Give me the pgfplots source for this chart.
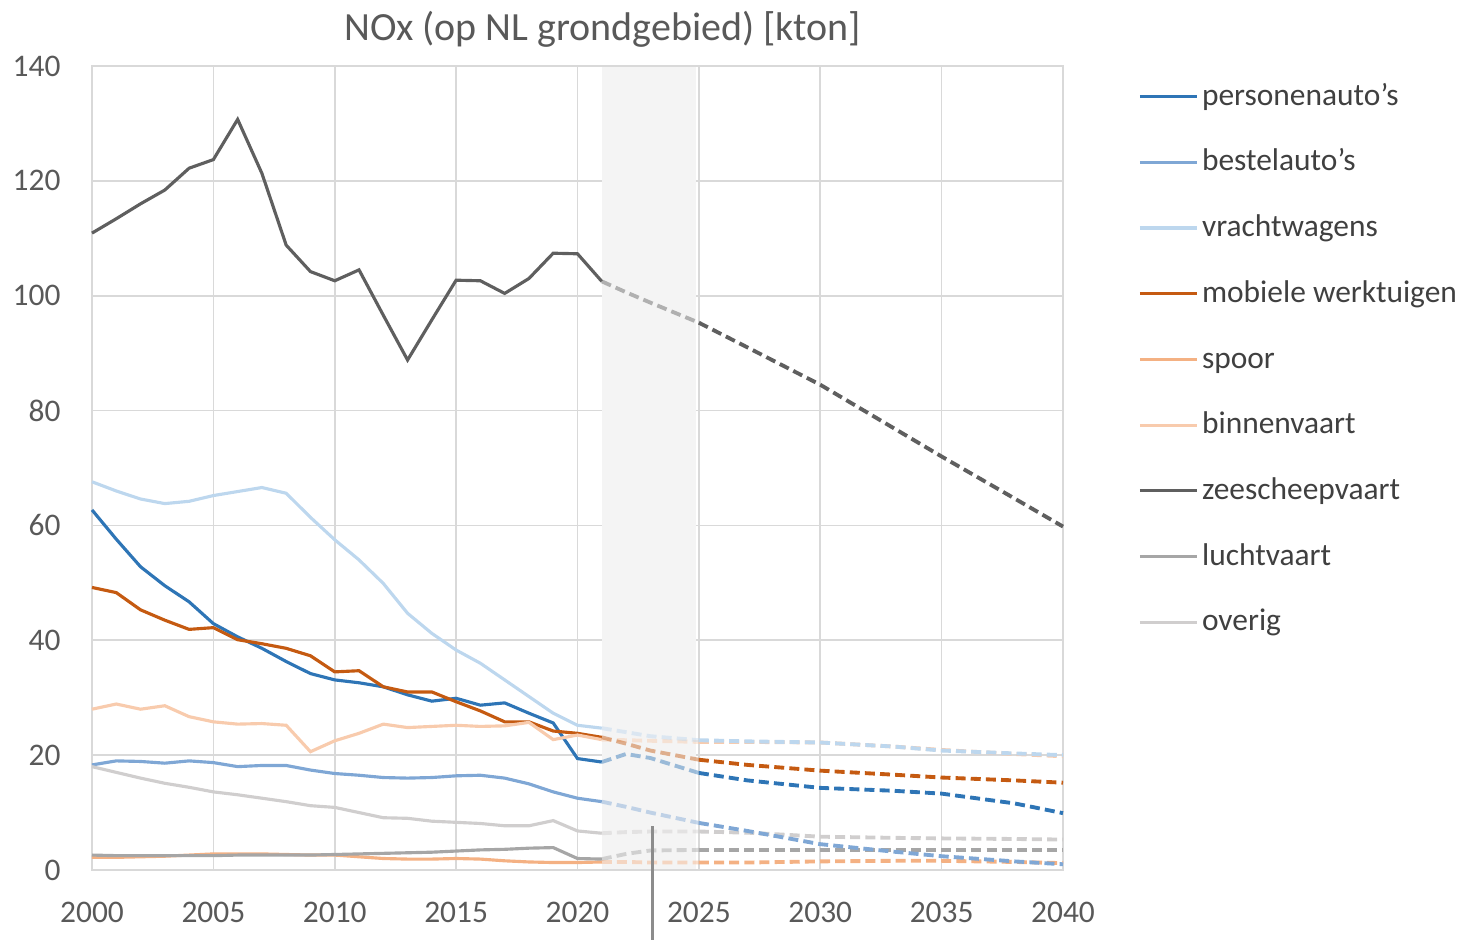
\documentclass[border=0pt]{standalone}
\usepackage{fontspec}
\setmainfont{Carlito}
\usepackage{pgfplots}
\pgfplotsset{compat=1.18}
\usepackage{pgfplotstable}

\definecolor{pa}{HTML}{2E75B6}
\definecolor{ba}{HTML}{7FA7D5}
\definecolor{vw}{HTML}{BDD7EE}
\definecolor{mw}{HTML}{C55A11}
\definecolor{sp}{HTML}{F4B183}
\definecolor{bv}{HTML}{F8CBAD}
\definecolor{zs}{HTML}{5F5F5F}
\definecolor{lv}{HTML}{A6A6A6}
\definecolor{ov}{HTML}{D0CECE}
\definecolor{gridc}{HTML}{D9D9D9}
\definecolor{tickc}{HTML}{595959}
\definecolor{legc}{HTML}{404040}
\definecolor{bandc}{HTML}{F4F4F4}
\definecolor{annc}{HTML}{8C8C8C}

\pgfplotstableread{
year pa ba vw mw sp bv zs lv ov
2000 62.7 18.3 67.6 49.2 2.2 28.0 110.9 2.6 18.0
2001 57.6 19.0 66.0 48.3 2.2 28.9 113.4 2.5 17.0
2002 52.8 18.9 64.6 45.3 2.3 28.0 116.0 2.5 16.0
2003 49.5 18.6 63.8 43.5 2.4 28.6 118.4 2.5 15.1
2004 46.7 19.0 64.2 41.9 2.6 26.7 122.2 2.5 14.4
2005 42.9 18.7 65.2 42.2 2.8 25.8 123.7 2.5 13.6
2006 40.6 18.0 65.9 40.1 2.8 25.4 130.7 2.6 13.1
2007 38.6 18.2 66.6 39.4 2.8 25.5 121.3 2.6 12.5
2008 36.3 18.2 65.6 38.6 2.7 25.2 108.8 2.6 11.9
2009 34.2 17.4 61.4 37.3 2.6 20.6 104.2 2.6 11.2
2010 33.1 16.8 57.5 34.5 2.6 22.5 102.6 2.7 10.9
2011 32.6 16.5 54.0 34.7 2.3 23.8 104.5 2.8 10.0
2012 31.9 16.1 49.9 31.9 2.0 25.4 96.6 2.9 9.1
2013 30.5 16.0 44.7 31.0 1.9 24.8 88.8 3.0 9.0
2014 29.4 16.1 41.2 31.0 1.9 25.0 95.8 3.1 8.5
2015 29.9 16.4 38.3 29.3 2.0 25.2 102.7 3.3 8.3
2016 28.7 16.5 36.0 27.7 1.9 25.0 102.6 3.5 8.1
2017 29.1 16.0 33.1 25.8 1.6 25.1 100.4 3.6 7.7
2018 27.3 15.0 30.2 25.8 1.4 25.7 103.0 3.8 7.7
2019 25.6 13.6 27.3 24.2 1.3 22.7 107.4 3.9 8.6
2020 19.4 12.5 25.2 23.8 1.3 23.5 107.3 2.0 6.8
2021 18.8 11.9 24.7 23.1 1.4 22.7 102.5 1.9 6.4
}\hist

\pgfplotstableread{
year pa ba vw mw sp bv zs lv ov
2021 18.8 11.9 24.7 23.1 1.4 22.7 102.5 1.9 6.4
2022 20.2 11.0 24.0 22.0 1.4 22.6 100.6 2.8 6.6
2023 19.5 10.0 23.3 20.8 1.3 22.5 98.8 3.4 6.7
2025 16.9 8.2 22.6 19.2 1.3 22.3 95.3 3.5 6.7
2027 15.6 6.8 22.4 18.3 1.3 22.3 91.0 3.5 6.5
2030 14.3 4.5 22.2 17.3 1.5 22.2 84.5 3.5 5.8
2033 13.8 3.2 21.5 16.6 1.6 21.5 77.0 3.5 5.6
2035 13.3 2.4 20.8 16.1 1.6 20.9 72.0 3.5 5.5
2038 11.6 1.5 20.3 15.6 1.4 20.2 64.7 3.5 5.4
2040 9.9 1.0 20.0 15.2 1.2 19.8 59.8 3.5 5.3
}\proj

\begin{document}
\begin{tikzpicture}
\path[use as bounding box] (-32.2pt,-24.5pt) rectangle (478.8pt,304.5pt);
\begin{axis}[
  at={(0pt,0pt)}, anchor=south west,
  scale only axis, width=339.85pt, height=281.4pt,
  xmin=2000, xmax=2040, ymin=0, ymax=140,
  xtick={2000,2005,...,2040}, ytick={0,20,...,140},
  grid=major, grid style={draw=gridc, line width=0.6pt},
  axis line style={draw=gridc, line width=0.6pt},
  tick style={draw=none},
  clip=false,
  ticklabel style={font=\fontsize{11}{13}\selectfont, text=tickc},
  /pgf/number format/assume math mode=true,
  xticklabel style={/pgf/number format/1000 sep={}, yshift=-7.7pt},
  yticklabel style={xshift=-7.5pt},
  title={NOx (op NL grondgebied) [kton]},
  title style={at={(0.526,1)}, anchor=center, yshift=7pt, font=\fontsize{14}{16}\selectfont, text=tickc},
  legend style={at={(1.077,0.635)}, anchor=west, draw=none, fill=none, inner sep=0pt,
    row sep=13pt, font=\fontsize{11}{13}\selectfont, text=legc,
    nodes={inner sep=0pt, text height=8pt, text depth=2pt},
    /tikz/every odd column/.append style={column sep=1.2pt}},
  legend cell align=left,
  legend image code/.code={\draw[#1, solid] (0pt,0pt) -- (20pt,0pt);},
  dproj/.style={line width=1.35pt, dash pattern=on 3.5pt off 1.8pt, forget plot},
]
\fill[bandc] (axis cs:2021,0.25) rectangle (axis cs:2024.9,139.75);

\addplot[pa, line width=1.1pt] table[x=year,y=pa]{\hist}; \addlegendentry{personenauto's}
\addplot[ba, line width=1.1pt] table[x=year,y=ba]{\hist}; \addlegendentry{bestelauto's}
\addplot[vw, line width=1.1pt] table[x=year,y=vw]{\hist}; \addlegendentry{vrachtwagens}
\addplot[mw, line width=1.1pt] table[x=year,y=mw]{\hist}; \addlegendentry{mobiele werktuigen}
\addplot[sp, line width=1.1pt] table[x=year,y=sp]{\hist}; \addlegendentry{spoor}
\addplot[bv, line width=1.1pt] table[x=year,y=bv]{\hist}; \addlegendentry{binnenvaart}
\addplot[zs, line width=1.1pt] table[x=year,y=zs]{\hist}; \addlegendentry{zeescheepvaart}
\addplot[lv, line width=1.1pt] table[x=year,y=lv]{\hist}; \addlegendentry{luchtvaart}
\addplot[ov, line width=1.1pt] table[x=year,y=ov]{\hist}; \addlegendentry{overig}

\pgfplotsinvokeforeach{ov,lv,sp,bv,vw,ba,mw,pa,zs}{
  \addplot[#1, dproj, opacity=0.45, restrict x to domain=2021:2025] table[x=year,y=#1]{\proj};
  \addplot[#1, dproj, restrict x to domain=2025:2040] table[x=year,y=#1]{\proj};
}

\draw[annc, line width=1pt] (axis cs:2023.1,7.6) -- (axis cs:2023.1,-12.2);
\end{axis}
\end{tikzpicture}
\end{document}
